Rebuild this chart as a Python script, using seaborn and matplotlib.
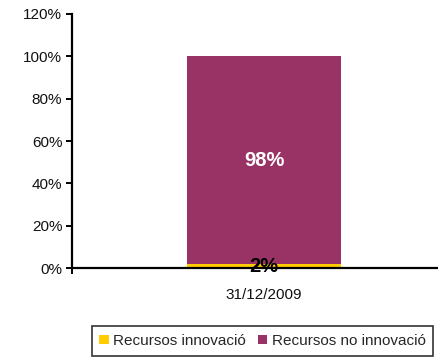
import matplotlib
matplotlib.use("Agg")
import matplotlib.pyplot as plt
import seaborn as sns
import pandas as pd
from matplotlib.patches import Patch
from matplotlib.ticker import PercentFormatter

dates = ["31/12/2009"]
innovacio = [2]
no_innovacio = [98]
series_names = ["Recursos innovació", "Recursos no innovació"]
colors = ["#FFCC00", "#993366"]

sns.set_theme(style="white")
plt.rcParams["font.family"] = ["Liberation Sans", "DejaVu Sans"]

df = pd.DataFrame({"date": dates, "inn": innovacio, "no_inn": no_innovacio})
df["total"] = df["inn"] + df["no_inn"]

fig = plt.figure(figsize=(4.39, 3.58), dpi=100)
ax = fig.add_axes([0.164, 0.251, 0.834, 0.710])

# stacked column: total drawn first, the lower segment on top of it
sns.barplot(data=df, x="date", y="total", color=colors[1], width=0.5,
            saturation=1, ax=ax, linewidth=0)
sns.barplot(data=df, x="date", y="inn", color=colors[0], width=0.5,
            saturation=1, ax=ax, linewidth=0)

ax.set_ylim(0, 120)
ax.set_xlim(-0.623, 0.565)
ax.set_yticks(range(0, 121, 20))
ax.yaxis.set_major_formatter(PercentFormatter(decimals=0))
ax.set_xlabel("")
ax.set_ylabel("")

for s in ["top", "right"]:
    ax.spines[s].set_visible(False)
for s in ["left", "bottom"]:
    ax.spines[s].set_color("black")
    ax.spines[s].set_linewidth(1.6)

ax.tick_params(axis="y", which="major", direction="out", length=4, width=1.4,
               color="black", labelsize=11, pad=3, left=True)
ax.tick_params(axis="x", which="major", length=0, labelsize=11, pad=14)
ax.set_xticks([-0.623], minor=True)
ax.tick_params(axis="x", which="minor", direction="out", length=4, width=1.4,
               color="black", bottom=True)
for lbl in ax.get_yticklabels() + ax.get_xticklabels():
    lbl.set_color("#111111")

for i, (a, b) in enumerate(zip(innovacio, no_innovacio)):
    ax.text(i, a + b / 2, f"{b}%", ha="center", va="center", color="white",
            fontsize=14.5, fontweight="bold")
    ax.text(i, a / 2, f"{a}%", ha="center", va="center", color="black",
            fontsize=14.5, fontweight="bold")

handles = [Patch(facecolor=c, edgecolor="none") for c in colors]
leg = fig.legend(handles, series_names, loc="center", bbox_to_anchor=(0.598, 0.0475),
                 ncol=2, frameon=True, fancybox=False, fontsize=11,
                 handlelength=0.6, handleheight=0.6, handletextpad=0.3,
                 columnspacing=0.8, borderpad=0.5, borderaxespad=0)
leg.get_frame().set_edgecolor("black")
leg.get_frame().set_linewidth(1.2)

fig.savefig("out.png", dpi=100)
